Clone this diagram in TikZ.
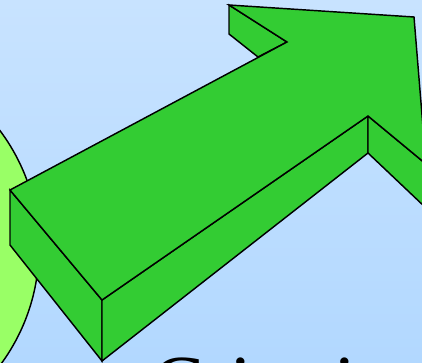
\documentclass[tikz,border=0pt]{standalone}
\usepackage{fontspec}
\setmainfont{Liberation Serif}
\definecolor{bgtop}{RGB}{200,227,255}
\definecolor{bgbot}{RGB}{178,216,255}
\definecolor{arrowgreen}{RGB}{51,204,51}
\definecolor{circgreen}{RGB}{153,255,102}
\tikzset{
  face/.style={fill=arrowgreen, draw=black, line width=1.45pt, line join=miter},
  edge/.style={draw=black, line width=1.45pt}
}
\begin{document}
\begin{tikzpicture}[x=1pt,y=-1pt]
\useasboundingbox (0,0) rectangle (422,363);
\clip (0,0) rectangle (422,363);
\shade[top color=bgtop, bottom color=bgbot] (0,0) rectangle (422,363);
% circle
\draw[fill=circgreen, line width=1.45pt] (-157,248) circle (196);
% title text
\node[anchor=base west, inner sep=0pt, font=\fontsize{78}{80}\selectfont] (title) at (152,409) {Criteria};
% key points
\coordinate (At) at (10,190);
\coordinate (Ab) at (10,245);
\coordinate (Bt) at (102,300);
\coordinate (Bb) at (102,361);
\coordinate (Ct) at (368,116);
\coordinate (Cb) at (368,153);
\coordinate (Tt) at (426,164);
\coordinate (Tb) at (426,208);
\coordinate (Rt) at (414,17);
\coordinate (Ht) at (229,5);
\coordinate (Hb) at (229,34);
\coordinate (Hi) at (287,42);
\coordinate (Hj) at (258,57);
% barb back face
\path[face] (Ht) -- (Hb) -- (Hj) -- (Hi) -- cycle;
% front face
\path[face] (At) -- (Bt) -- (Bb) -- (Ab) -- cycle;
% long side face
\path[face] (Bt) -- (Ct) -- (Cb) -- (Bb) -- cycle;
% head side face
\path[face] (Ct) -- (Tt) -- (Tb) -- (Cb) -- cycle;
% top face
\path[face] (At) -- (Hi) -- (Ht) -- (Rt) -- (Tt) -- (Ct) -- (Bt) -- cycle;
\end{tikzpicture}
\end{document}
